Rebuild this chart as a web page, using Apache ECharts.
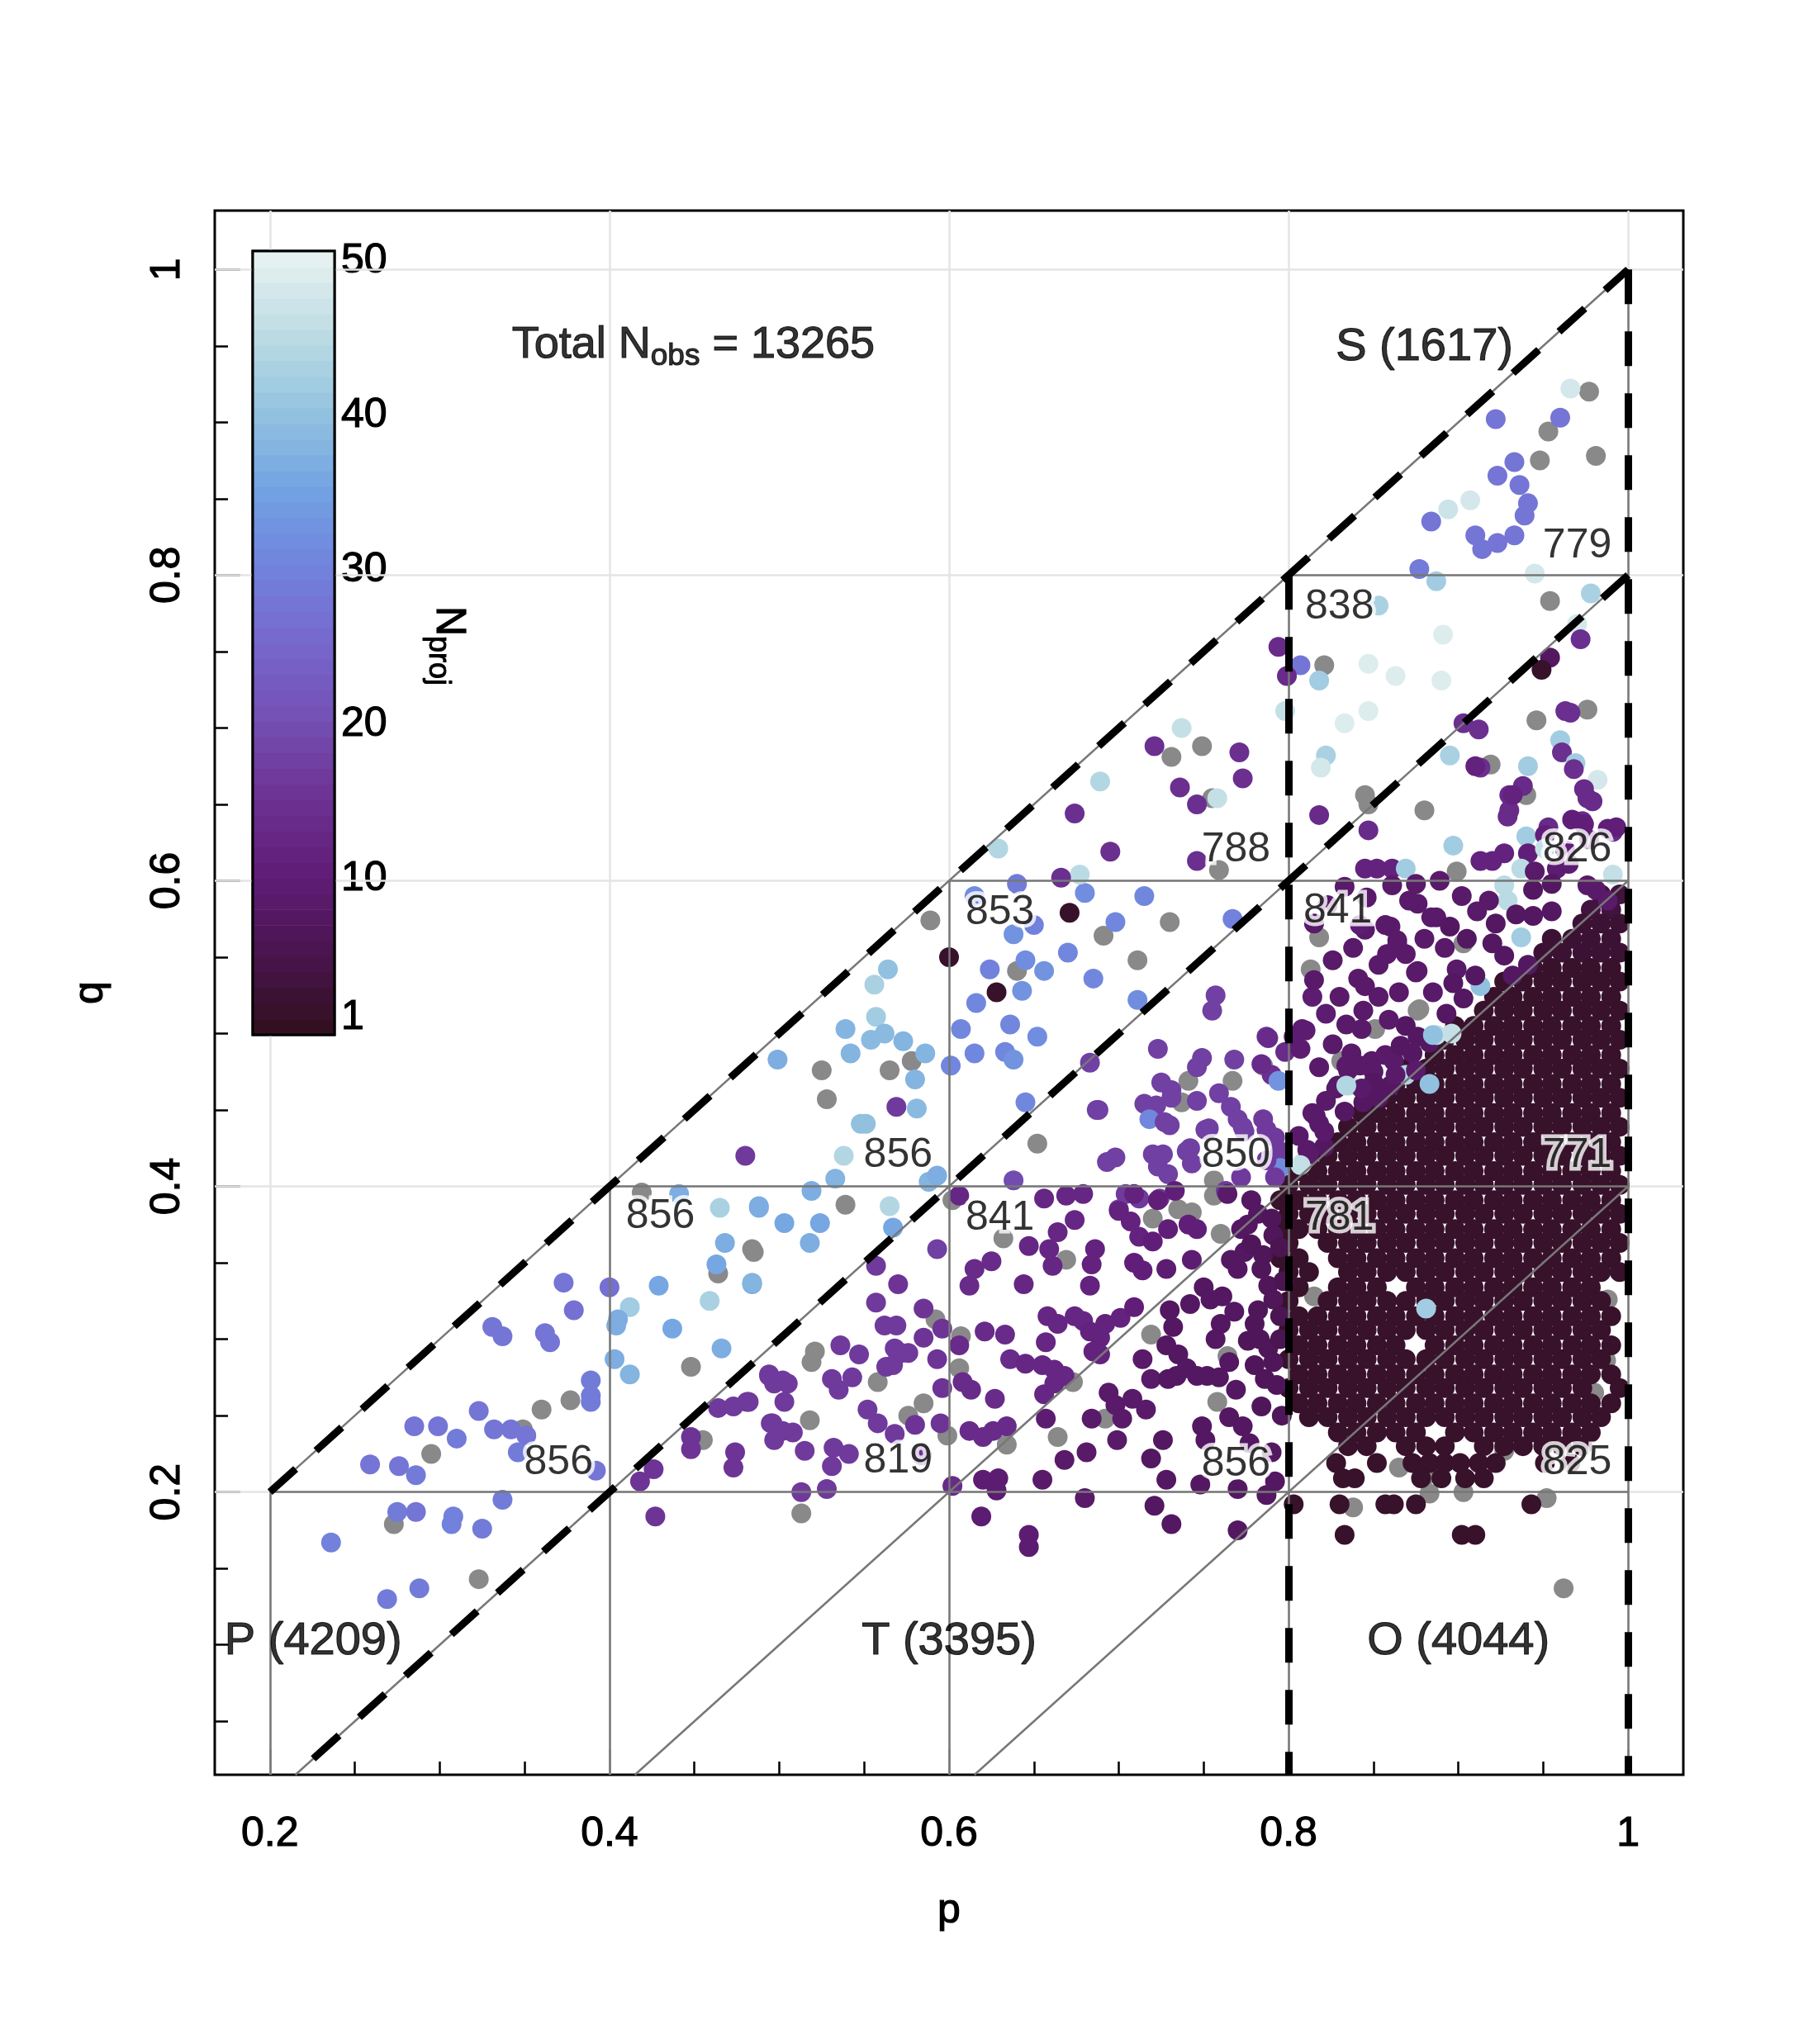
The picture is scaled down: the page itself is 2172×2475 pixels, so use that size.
<!DOCTYPE html>
<html>
<head>
<meta charset="utf-8">
<script src="https://cdn.jsdelivr.net/npm/echarts@6/dist/echarts.min.js"></script>
<style>
  html, body { margin: 0; padding: 0; background: #fff; }
  #chart { width: 2172px; height: 2475px; }
</style>
</head>
<body>
<div id="chart"></div>
<script>
// axis ranges (R style, 4% padding round the data)
var pRange = [0.1675, 1.0325];
var qRange = [0.015, 1.0385];
var majorTicks = [0.2, 0.4, 0.6, 0.8, 1];
var minorTicksP = [0.25, 0.3, 0.35, 0.45, 0.5, 0.55, 0.65, 0.7, 0.75, 0.85, 0.9, 0.95];
var minorTicksQ = [0.05, 0.1, 0.15, 0.25, 0.3, 0.35, 0.45, 0.5, 0.55, 0.65, 0.7, 0.75, 0.85, 0.9, 0.95];

// colour bar
var barRange = [-0.124, 50.64];
var barTicks = [1, 10, 20, 30, 40, 50];
var barLevels = [1, 2, 3, 4, 5, 6, 7, 8, 9, 10, 11, 12, 13, 14, 15, 16, 17, 18, 19, 20,
  21, 22, 23, 24, 25, 26, 27, 28, 29, 30, 31, 32, 33, 34, 35, 36, 37, 38, 39, 40,
  41, 42, 43, 44, 45, 46, 47, 48, 49, 50];
var palette = ['#331021', '#4a1550', '#601d77', '#6d3293', '#7450b4', '#7767cc',
  '#7183dd', '#72a2e2', '#93c2df', '#bcdce4', '#e5f1f0'];

// triangle cells
var cellRows = [0.2, 0.4, 0.6, 0.8];
var cellCols = [0.2, 0.4, 0.6, 0.8, 1];
var cellDiag = [0, 0.2, 0.4, 0.6];

// counts per cell [p, q, n]
var cellCounts = [
  [0.970, 0.819, '779'], [0.830, 0.779, '838'], [0.970, 0.620, '826'], [0.769, 0.620, '788'],
  [0.630, 0.579, '853'], [0.829, 0.580, '841'], [0.570, 0.420, '856'], [0.769, 0.420, '850'],
  [0.970, 0.420, '771'], [0.430, 0.380, '856'], [0.630, 0.379, '841'], [0.830, 0.379, '781'],
  [0.370, 0.219, '856'], [0.570, 0.220, '819'], [0.769, 0.218, '856'], [0.970, 0.219, '825']
];
var regionLabels = [
  [0.880, 0.949, 'S (1617)'], [0.2255, 0.102, 'P (4209)'],
  [0.600, 0.102, 'T (3395)'], [0.900, 0.102, 'O (4044)']
];
var totalLabel = [0.4494, 0.949, '13265'];

// points without N_proj (grey) [p, q]
var grayPts = [
  [0.419,0.396],[0.485,0.357],[0.464,0.343],[0.448,0.282],[0.377,0.260],[0.360,0.254],[0.349,0.241],
  [0.295,0.225],[0.273,0.179],[0.323,0.143],[0.455,0.234],
  [0.731,0.681],[0.749,0.688],[0.755,0.654],[0.759,0.607],[0.730,0.573],[0.589,0.574],[0.691,0.564],
  [0.711,0.548],[0.640,0.541],[0.578,0.482],[0.525,0.476],[0.565,0.476],[0.528,0.457],[0.741,0.469],
  [0.737,0.455],[0.767,0.469],[0.652,0.428],
  [0.539,0.388],[0.484,0.359],[0.602,0.391],[0.632,0.366],[0.669,0.352],[0.720,0.379],[0.735,0.385],
  [0.743,0.383],[0.756,0.394],[0.760,0.369],[0.592,0.313],[0.607,0.302],[0.719,0.303],[0.521,0.292],
  [0.519,0.285],[0.606,0.281],[0.558,0.272],[0.673,0.272],[0.585,0.258],[0.576,0.250],[0.518,0.247],
  [0.599,0.237],[0.634,0.231],[0.513,0.186],[0.664,0.236],[0.692,0.248],[0.758,0.259],[0.764,0.289],
  [0.977,0.920],[0.953,0.894],[0.981,0.878],[0.948,0.875],[0.954,0.783],[0.821,0.741],[0.919,0.676],
  [0.946,0.705],[0.976,0.712],[0.940,0.656],[0.845,0.656],[0.847,0.650],[0.880,0.646],
  [0.818,0.563],[0.813,0.542],[0.903,0.559],[0.877,0.516],[0.899,0.606],[0.851,0.503],[0.876,0.515],
  [0.831,0.482],[0.785,0.479],[0.756,0.404],
  [0.838,0.190],[0.883,0.199],[0.903,0.200],[0.952,0.196],[0.962,0.137],[0.865,0.216],[0.927,0.227],
  [0.988,0.326],[0.987,0.286],[0.980,0.265],[0.815,0.328],[0.880,0.210]
];

// coloured points [p, q, N_proj]
var colPts = [
  // P, lower left
  [0.373,0.337,28],[0.379,0.319,27],[0.331,0.308,28],[0.337,0.302,28],[0.362,0.304,28],[0.365,0.298,28],
  [0.389,0.273,29],[0.389,0.263,29],[0.389,0.259,29],[0.323,0.253,28],[0.285,0.243,28],[0.299,0.243,28],
  [0.310,0.235,29],[0.332,0.241,28],[0.342,0.241,28],[0.351,0.237,28],[0.346,0.226,29],[0.259,0.218,28],
  [0.276,0.217,28],[0.286,0.211,29],[0.392,0.214,28],[0.337,0.195,29],[0.275,0.187,29],[0.286,0.187,28],
  [0.308,0.184,30],[0.307,0.179,30],[0.325,0.176,29],[0.236,0.167,30],[0.269,0.130,29],[0.288,0.137,29],
  [0.400,0.334,27],
  // P band, middle
  [0.441,0.395,37],[0.465,0.386,43],[0.488,0.386,37],[0.468,0.363,37],[0.463,0.349,36],[0.429,0.335,36],
  [0.484,0.336,37],[0.459,0.325,43],[0.412,0.321,42],[0.405,0.313,37],[0.404,0.309,37],[0.437,0.307,36],
  [0.466,0.294,37],[0.403,0.287,37],[0.412,0.277,38],
  [0.488,0.387,37],[0.503,0.376,36],[0.519,0.397,37],[0.533,0.405,38],[0.524,0.376,36],[0.518,0.363,37],
  [0.565,0.387,44],[0.567,0.373,36],[0.484,0.337,38],[0.588,0.403,38],[0.593,0.407,37],
  [0.564,0.542,40],[0.556,0.532,43],[0.557,0.511,42],[0.539,0.503,38],[0.554,0.496,39],[0.562,0.500,39],
  [0.573,0.495,38],[0.542,0.487,38],[0.586,0.487,38],[0.580,0.470,38],[0.499,0.483,37],[0.581,0.451,39],
  [0.551,0.441,40],[0.548,0.441,40],[0.538,0.420,44],[0.569,0.452,17],
  // P band, upper
  [0.640,0.598,29],[0.680,0.592,32],[0.715,0.590,31],[0.615,0.590,32],[0.698,0.573,31],[0.767,0.575,30],
  [0.650,0.571,30],[0.638,0.565,33],[0.670,0.553,31],[0.645,0.548,32],[0.624,0.542,30],[0.656,0.541,33],
  [0.685,0.536,31],[0.643,0.528,33],[0.616,0.520,31],[0.711,0.522,32],[0.636,0.506,31],[0.607,0.503,31],
  [0.652,0.498,32],[0.615,0.487,31],[0.633,0.488,31],[0.638,0.483,33],[0.601,0.479,31],[0.645,0.455,31],
  [0.629,0.621,44],[0.689,0.665,44],[0.677,0.604,45],[0.737,0.700,46],[0.758,0.654,46],
  [0.671,0.579,2],[0.600,0.550,2],[0.628,0.527,2],
  [0.721,0.688,15],[0.771,0.684,15],[0.773,0.667,15],[0.736,0.661,15],[0.746,0.650,15],[0.674,0.644,15],
  [0.695,0.619,15],[0.746,0.613,15],[0.666,0.602,15],
  // T, left
  [0.480,0.420,17],[0.494,0.277,17],[0.497,0.271,17],[0.464,0.255,17],[0.473,0.256,17],[0.481,0.259,17],
  [0.495,0.245,17],[0.497,0.234,17],[0.448,0.236,16],[0.448,0.228,16],[0.474,0.226,16],[0.473,0.216,16],
  [0.426,0.215,16],[0.418,0.207,16],[0.427,0.184,16],
  // T, upper
  [0.757,0.525,18],[0.755,0.515,18],[0.723,0.490,18],[0.768,0.483,18],[0.749,0.484,18],[0.746,0.478,18],
  [0.683,0.481,18],[0.722,0.453,18],[0.687,0.450,18],[0.730,0.440,18],[0.753,0.438,18],[0.693,0.416,18],
  [0.726,0.421,18],[0.742,0.425,18],[0.774,0.436,18],
  [0.787,0.498,15],[0.798,0.488,14],[0.790,0.473,15],[0.794,0.469,33],[0.725,0.468,18],[0.731,0.463,18],
  [0.731,0.458,18],[0.715,0.454,18],[0.718,0.444,31],[0.746,0.456,18],[0.759,0.461,18],[0.766,0.452,18],
  [0.770,0.444,18],[0.773,0.439,18],[0.727,0.442,18],[0.751,0.437,18],[0.785,0.444,17],[0.787,0.437,17],
  [0.792,0.432,17],[0.795,0.423,17],[0.795,0.412,32],[0.808,0.415,46],[0.698,0.419,18],[0.688,0.450,18],
  [0.720,0.421,18],[0.723,0.413,18],[0.729,0.408,18],[0.740,0.423,18],[0.743,0.415,18],[0.772,0.406,17],
  [0.763,0.397,17],[0.787,0.417,17],[0.792,0.406,17],[0.704,0.395,17],[0.712,0.392,17],[0.724,0.392,17],
  [0.700,0.385,17],
  // T, middle
  [0.593,0.359,18],[0.606,0.394,13],[0.638,0.404,20],[0.647,0.361,13],[0.656,0.392,13],[0.669,0.394,13],
  [0.679,0.395,13],[0.674,0.378,13],[0.664,0.370,13],[0.659,0.359,13],[0.661,0.348,13],[0.686,0.359,12],
  [0.684,0.349,12],[0.683,0.335,12],[0.700,0.384,12],[0.707,0.377,12],[0.712,0.367,12],[0.720,0.364,11],
  [0.709,0.395,12],[0.723,0.391,11],[0.733,0.397,11],[0.729,0.372,11],[0.741,0.375,11],[0.746,0.372,11],
  [0.743,0.352,10],[0.709,0.350,11],[0.714,0.345,11],[0.728,0.346,10],[0.764,0.395,9],[0.778,0.391,8],
  [0.782,0.382,8],[0.772,0.372,8],[0.776,0.375,8],[0.790,0.379,7],[0.791,0.368,7],
  [0.615,0.346,14],[0.612,0.335,14],[0.625,0.351,14],[0.644,0.336,13],[0.557,0.348,17],[0.557,0.324,17],
  [0.570,0.336,16],[0.585,0.320,16],[0.562,0.309,17],[0.569,0.309,17],[0.596,0.307,16],[0.606,0.296,14],
  [0.585,0.301,16],[0.621,0.305,14],[0.633,0.303,14],[0.658,0.315,13],[0.664,0.310,13],[0.674,0.315,13],
  [0.679,0.312,13],[0.683,0.305,12],[0.689,0.301,12],[0.692,0.310,12],[0.701,0.314,12],[0.709,0.321,11],
  [0.657,0.298,13],[0.685,0.292,12],[0.689,0.290,12],[0.536,0.296,17],[0.547,0.290,17],[0.568,0.294,17],
  [0.572,0.291,17],[0.576,0.291,17],[0.563,0.282,17],[0.567,0.283,17],[0.593,0.287,16],[0.531,0.274,17],
  [0.535,0.267,17],[0.543,0.275,17],[0.494,0.276,17],[0.502,0.273,17],[0.505,0.271,17],[0.482,0.259,17],
  [0.503,0.259,17],[0.596,0.268,16],[0.608,0.272,14],[0.613,0.267,14],[0.636,0.287,14],[0.645,0.284,13],
  [0.655,0.283,13],[0.662,0.280,13],[0.668,0.276,13],[0.656,0.264,13],[0.662,0.271,13],[0.627,0.261,14],
  [0.552,0.254,17],[0.558,0.245,17],[0.580,0.244,16],[0.568,0.238,17],[0.595,0.245,16],[0.496,0.245,17],
  [0.502,0.240,17],[0.508,0.239,17],[0.515,0.227,17],[0.532,0.229,17],[0.541,0.225,17],[0.531,0.217,17],
  [0.584,0.224,16],[0.612,0.240,14],[0.620,0.236,14],[0.626,0.240,14],[0.634,0.243,14],[0.513,0.200,17],
  [0.528,0.202,17],[0.602,0.204,14],
  // T, right (darker)
  [0.657,0.248,10],[0.668,0.221,9],[0.681,0.226,9],[0.684,0.248,9],[0.694,0.265,9],[0.698,0.257,9],
  [0.702,0.248,9],[0.699,0.234,9],[0.708,0.261,9],[0.716,0.254,9],[0.714,0.287,9],[0.719,0.274,9],
  [0.729,0.274,8],[0.734,0.276,8],[0.728,0.296,8],[0.735,0.290,8],[0.740,0.281,8],[0.730,0.319,8],
  [0.732,0.308,8],[0.742,0.323,8],[0.750,0.334,8],[0.754,0.326,8],[0.761,0.328,8],[0.746,0.276,8],
  [0.752,0.276,8],[0.759,0.275,8],[0.765,0.285,8],[0.769,0.267,8],[0.765,0.249,8],[0.773,0.243,8],
  [0.776,0.299,7],[0.780,0.310,7],[0.782,0.319,7],[0.766,0.352,8],[0.770,0.346,8],[0.774,0.357,8],
  [0.784,0.346,7],[0.788,0.335,7],[0.791,0.326,7],[0.788,0.294,7],[0.791,0.285,7],[0.786,0.274,7],
  [0.726,0.234,8],[0.719,0.222,8],[0.728,0.208,8],[0.749,0.243,8],[0.751,0.234,8],[0.748,0.205,8],
  [0.721,0.191,8],[0.731,0.179,8],[0.770,0.175,8],[0.770,0.202,8],[0.787,0.198,8],[0.792,0.207,8],
  [0.680,0.196,9],[0.655,0.208,9],[0.620,0.208,10],[0.629,0.209,10],[0.628,0.201,10],[0.619,0.184,10],
  [0.647,0.172,10],[0.647,0.164,10],
  [0.778,0.362,7],[0.785,0.355,7],[0.795,0.360,6],[0.783,0.300,7],[0.795,0.300,6],[0.793,0.270,7],
  [0.780,0.283,7],[0.796,0.250,7],[0.784,0.256,7],[0.777,0.232,8],[0.790,0.226,8],[0.760,0.310,8],
  [0.768,0.318,8],[0.757,0.300,8],[0.795,0.315,6],[0.797,0.338,6],
  // S
  [0.966,0.922,48],[0.922,0.902,28],[0.960,0.903,28],[0.933,0.874,28],[0.923,0.865,28],[0.936,0.859,28],
  [0.907,0.849,48],[0.894,0.843,47],[0.941,0.847,28],[0.939,0.839,28],[0.884,0.835,28],[0.910,0.826,28],
  [0.914,0.817,28],[0.923,0.821,28],[0.933,0.826,28],[0.877,0.804,29],[0.887,0.796,42],[0.945,0.801,48],
  [0.978,0.788,43],[0.853,0.780,43],[0.970,0.768,48],[0.891,0.761,49],[0.972,0.758,15],[0.954,0.746,8],
  [0.949,0.738,2],[0.847,0.742,49],[0.863,0.734,49],[0.890,0.731,49],[0.847,0.711,49],[0.833,0.703,49],
  [0.807,0.741,28],[0.818,0.731,42],[0.794,0.753,14],[0.799,0.734,14],[0.798,0.711,46],[0.822,0.682,43],
  [0.819,0.674,48],[0.903,0.703,15],[0.912,0.699,15],[0.895,0.682,43],[0.913,0.674,15],[0.963,0.711,15],
  [0.966,0.710,15],[0.960,0.692,42],[0.961,0.684,15],[0.969,0.677,42],[0.968,0.673,15],[0.941,0.675,42],
  [0.982,0.666,48],[0.938,0.662,14],[0.930,0.656,14],[0.930,0.646,14],[0.929,0.642,14],[0.974,0.660,14],
  [0.976,0.654,14],[0.979,0.652,14],[0.973,0.639,14],[0.991,0.632,14],[0.818,0.643,14],[0.847,0.633,14],
  [0.953,0.635,14],[0.940,0.629,42],
  // O, top
  [0.910,0.675,12],[0.932,0.656,12],[0.988,0.634,11],[0.993,0.635,11],[0.967,0.640,11],[0.974,0.637,11],
  [0.977,0.627,11],[0.951,0.630,11],[0.941,0.618,11],[0.963,0.620,11],[0.951,0.621,46],[0.927,0.618,12],
  [0.920,0.613,12],[0.913,0.613,12],[0.897,0.623,42],[0.937,0.608,45],[0.845,0.608,12],[0.852,0.608,12],
  [0.861,0.608,12],[0.869,0.608,42],[0.958,0.608,10],[0.965,0.611,10],[0.976,0.597,9],[0.981,0.594,9],
  [0.988,0.587,9],[0.991,0.604,46],[0.927,0.597,45],[0.929,0.587,45],
  // O, above the blob
  [0.833,0.596,9],[0.876,0.585,9],[0.887,0.576,9],[0.845,0.568,9],[0.860,0.570,9],[0.864,0.558,9],
  [0.858,0.552,9],[0.841,0.536,9],[0.845,0.531,9],[0.876,0.541,9],[0.885,0.527,9],[0.865,0.527,9],
  [0.814,0.524,10],[0.822,0.513,10],[0.830,0.524,9],[0.853,0.524,9],[0.844,0.515,9],[0.834,0.506,9],
  [0.843,0.503,9],[0.869,0.505,8],[0.876,0.498,8],[0.883,0.494,8],[0.887,0.499,46],[0.837,0.487,9],
  [0.834,0.479,9],[0.842,0.479,9],[0.849,0.482,9],[0.857,0.486,9],[0.862,0.482,9],[0.850,0.475,9],
  [0.873,0.487,8],[0.836,0.466,46],[0.829,0.466,8],[0.850,0.468,8],[0.844,0.455,8],[0.860,0.466,8],
  [0.869,0.473,44],[0.816,0.446,9],[0.818,0.441,9],[0.806,0.433,9],[0.811,0.424,9],[0.821,0.426,8],
  [0.803,0.498,10],[0.808,0.503,10],
  [0.842,0.571,10],[0.857,0.571,9],[0.864,0.561,9],[0.871,0.587,9],[0.861,0.597,9],[0.884,0.576,9],
  [0.875,0.540,9],[0.892,0.556,9],[0.899,0.542,9],[0.911,0.580,9],[0.918,0.587,9],[0.944,0.594,8],
  [0.944,0.577,8],[0.955,0.580,8],[0.937,0.563,42],[0.913,0.531,40],[0.896,0.500,46],[0.885,0.499,40],
  [0.932,0.538,8],[0.941,0.545,8],[0.927,0.551,8],[0.920,0.559,8],[0.910,0.538,8],[0.810,0.502,10],
  [0.807,0.490,10],[0.835,0.476,9],[0.828,0.464,9],[0.843,0.464,9],[0.863,0.473,9],[0.875,0.476,9],
  [0.834,0.466,44],[0.883,0.467,40],[0.814,0.448,9],[0.821,0.436,9],[0.812,0.421,9],[0.807,0.414,46],
  [0.788,0.497,14],[0.784,0.480,14],
  [0.815,0.535,9],[0.826,0.548,9],[0.838,0.556,9],[0.853,0.545,9],[0.869,0.552,9],[0.880,0.562,9],
  [0.895,0.570,8],[0.905,0.562,8],[0.903,0.523,8],[0.893,0.513,8],[0.859,0.509,9],[0.826,0.493,9],
  [0.818,0.478,9],[0.822,0.456,9],[0.833,0.449,8],[0.853,0.458,8],[0.866,0.492,8],[0.897,0.533,8],
  [0.922,0.572,8],[0.934,0.578,8],[0.955,0.598,8],[0.945,0.606,9],[0.902,0.590,9],[0.889,0.600,9],
  [0.875,0.598,9],[0.823,0.584,9],[0.815,0.572,9],[0.846,0.589,9],
  // inside the blob
  [0.881,0.320,42]
];

// dense O cluster, read row by row: [q, N_proj, [p, ...]]
var darkRows = [
  [0.591, 4, [0.984, 0.995]],
  [0.581, 4, [0.978, 0.990]],
  [0.572, 3, [0.973, 0.984, 0.995]],
  [0.562, 3, [0.955, 0.967, 0.978, 0.990]],
  [0.553, 3, [0.950, 0.961, 0.973, 0.984, 0.995]],
  [0.543, 2, [0.944, 0.955, 0.967, 0.978, 0.990]],
  [0.534, 2, [0.927, 0.938, 0.950, 0.961, 0.973, 0.984, 0.995]],
  [0.524, 2, [0.921, 0.932, 0.944, 0.955, 0.967, 0.978, 0.990]],
  [0.515, 2, [0.915, 0.927, 0.938, 0.950, 0.961, 0.973, 0.984, 0.995]],
  [0.505, 2, [0.898, 0.909, 0.921, 0.932, 0.944, 0.955, 0.967, 0.978, 0.990]],
  [0.496, 2, [0.892, 0.904, 0.915, 0.927, 0.938, 0.950, 0.961, 0.973, 0.984, 0.995]],
  [0.486, 2, [0.886, 0.898, 0.909, 0.921, 0.932, 0.944, 0.955, 0.967, 0.978, 0.990]],
  [0.477, 2, [0.869, 0.881, 0.892, 0.904, 0.915, 0.927, 0.938, 0.950, 0.961, 0.973, 0.984, 0.995]],
  [0.467, 2, [0.863, 0.875, 0.886, 0.898, 0.909, 0.921, 0.932, 0.944, 0.955, 0.967, 0.978, 0.990]],
  [0.458, 2, [0.858, 0.869, 0.881, 0.892, 0.904, 0.915, 0.927, 0.938, 0.950, 0.961, 0.973, 0.984, 0.995]],
  [0.448, 2, [0.843, 0.852, 0.863, 0.875, 0.886, 0.898, 0.909, 0.921, 0.932, 0.944, 0.955, 0.967, 0.978, 0.990]],
  [0.439, 2, [0.835, 0.846, 0.858, 0.869, 0.881, 0.892, 0.904, 0.915, 0.927, 0.938, 0.950, 0.961, 0.973, 0.984, 0.995]],
  [0.429, 2, [0.829, 0.840, 0.852, 0.863, 0.875, 0.886, 0.898, 0.909, 0.921, 0.932, 0.944, 0.955, 0.967, 0.978, 0.990]],
  [0.420, 2, [0.812, 0.823, 0.835, 0.846, 0.858, 0.869, 0.881, 0.892, 0.904, 0.915, 0.927, 0.938, 0.950, 0.961, 0.973, 0.984, 0.995]],
  [0.410, 2, [0.806, 0.817, 0.829, 0.840, 0.852, 0.863, 0.875, 0.886, 0.898, 0.909, 0.921, 0.932, 0.944, 0.955, 0.967, 0.978, 0.990]],
  [0.401, 2, [0.800, 0.812, 0.823, 0.835, 0.846, 0.858, 0.869, 0.881, 0.892, 0.904, 0.915, 0.927, 0.938, 0.950, 0.961, 0.973, 0.984, 0.995]],
  [0.391, 2, [0.795, 0.806, 0.817, 0.829, 0.840, 0.852, 0.863, 0.875, 0.886, 0.898, 0.909, 0.921, 0.932, 0.944, 0.955, 0.967, 0.978, 0.990]],
  [0.382, 2, [0.800, 0.812, 0.823, 0.835, 0.846, 0.858, 0.869, 0.881, 0.892, 0.904, 0.915, 0.927, 0.938, 0.950, 0.961, 0.973, 0.984, 0.995]],
  [0.372, 2, [0.795, 0.806, 0.817, 0.829, 0.840, 0.852, 0.863, 0.875, 0.886, 0.898, 0.909, 0.921, 0.932, 0.944, 0.955, 0.967, 0.978, 0.990]],
  [0.363, 2, [0.800, 0.823, 0.835, 0.846, 0.858, 0.869, 0.881, 0.892, 0.904, 0.915, 0.927, 0.938, 0.950, 0.961, 0.973, 0.984, 0.995]],
  [0.353, 2, [0.795, 0.806, 0.829, 0.840, 0.852, 0.863, 0.875, 0.886, 0.898, 0.909, 0.921, 0.932, 0.944, 0.955, 0.967, 0.978, 0.990]],
  [0.344, 2, [0.800, 0.812, 0.835, 0.846, 0.858, 0.869, 0.881, 0.892, 0.904, 0.915, 0.927, 0.938, 0.950, 0.961, 0.973, 0.984, 0.995]],
  [0.334, 2, [0.806, 0.829, 0.840, 0.852, 0.875, 0.886, 0.898, 0.909, 0.921, 0.932, 0.944, 0.955, 0.967, 0.978]],
  [0.325, 2, [0.800, 0.823, 0.835, 0.846, 0.858, 0.869, 0.881, 0.892, 0.904, 0.915, 0.927, 0.938, 0.950, 0.961, 0.973, 0.984]],
  [0.315, 2, [0.806, 0.817, 0.829, 0.840, 0.852, 0.863, 0.875, 0.886, 0.898, 0.909, 0.921, 0.932, 0.944, 0.955, 0.967, 0.978, 0.990]],
  [0.306, 2, [0.800, 0.812, 0.823, 0.835, 0.846, 0.858, 0.869, 0.881, 0.892, 0.904, 0.915, 0.927, 0.938, 0.950, 0.961, 0.973, 0.984]],
  [0.296, 2, [0.806, 0.817, 0.829, 0.840, 0.852, 0.863, 0.886, 0.898, 0.909, 0.921, 0.932, 0.944, 0.955, 0.967, 0.978, 0.990]],
  [0.287, 2, [0.800, 0.812, 0.823, 0.835, 0.846, 0.858, 0.869, 0.881, 0.892, 0.904, 0.915, 0.927, 0.938, 0.950, 0.961, 0.973, 0.984]],
  [0.277, 2, [0.806, 0.817, 0.829, 0.840, 0.852, 0.863, 0.875, 0.886, 0.898, 0.909, 0.921, 0.932, 0.944, 0.955, 0.967, 0.978, 0.990]],
  [0.268, 2, [0.800, 0.812, 0.823, 0.835, 0.846, 0.858, 0.869, 0.881, 0.892, 0.904, 0.915, 0.927, 0.938, 0.950, 0.961, 0.973, 0.995]],
  [0.258, 2, [0.806, 0.817, 0.829, 0.840, 0.852, 0.863, 0.875, 0.886, 0.898, 0.909, 0.921, 0.932, 0.944, 0.955, 0.967, 0.978, 0.990]],
  [0.249, 2, [0.812, 0.823, 0.835, 0.846, 0.858, 0.869, 0.881, 0.892, 0.904, 0.915, 0.927, 0.938, 0.950, 0.961, 0.973, 0.984]],
  [0.239, 2, [0.829, 0.840, 0.852, 0.863, 0.875, 0.898, 0.909, 0.921, 0.932, 0.944, 0.955, 0.967, 0.978]],
  [0.230, 2, [0.835, 0.846, 0.869, 0.881, 0.892, 0.915, 0.927, 0.938, 0.950, 0.961, 0.973]],
  [0.219, 2, [0.828, 0.852, 0.873, 0.883, 0.892, 0.901, 0.912, 0.922, 0.951, 0.966]],
  [0.209, 2, [0.832, 0.839, 0.878, 0.890, 0.904, 0.915]],
  [0.192, 2, [0.803, 0.830, 0.857, 0.862, 0.875, 0.943]],
  [0.172, 2, [0.833, 0.902, 0.910]]
];

var darkPts = [];
darkRows.forEach(function (row) {
  row[2].forEach(function (p) { darkPts.push([p, row[0], row[1]]); });
});

var qMin = qRange[0];
var gridLines = [];
majorTicks.forEach(function (v) {
  gridLines.push({ coords: [[v, qRange[0]], [v, qRange[1]]] });
  gridLines.push({ coords: [[pRange[0], v], [pRange[1], v]] });
});
var cellLines = [];
cellRows.forEach(function (q) { cellLines.push({ coords: [[q, q], [1, q]] }); });
cellCols.forEach(function (p) { cellLines.push({ coords: [[p, qMin], [p, p]] }); });
cellDiag.forEach(function (d) {
  var start = d === 0 ? [0.2, 0.2] : [qMin + d, qMin];
  cellLines.push({ coords: [start, [1, 1 - d]] });
});
var dashLines = [
  { coords: [[0.2, 0.2], [1, 1]] },
  { coords: [[1, 0.8], [qMin + 0.2, qMin]] },
  { coords: [[0.8, 0.8], [0.8, qMin]] },
  { coords: [[1, 1], [1, qMin]] }
];

var font = 'Liberation Sans, Arial, Helvetica, sans-serif';
var tickStyle = { color: '#000', width: 2.5 };
var dotSize = 24;
// slightly heavier black text, like the original device font
var ink = { color: '#000', textBorderColor: '#000', textBorderWidth: 1.2 };

function labelPts(list) {
  return list.map(function (d) { return { value: [d[0], d[1]], name: d[2] }; });
}

var chart = echarts.init(document.getElementById('chart'));
var option = {
  animation: false,
  backgroundColor: '#fff',
  textStyle: { fontFamily: font },
  grid: [
    { left: 260, top: 255, right: 134, bottom: 326, show: true, borderColor: '#000', borderWidth: 3,
      outerBoundsMode: 'none' },
    { left: 306, top: 304, width: 99, height: 949, show: true, borderColor: '#000', borderWidth: 3,
      outerBoundsMode: 'none' }
  ],
  xAxis: [
    {
      type: 'value', gridIndex: 0, min: pRange[0], max: pRange[1], position: 'bottom',
      axisLine: { show: false }, splitLine: { show: false },
      axisTick: { show: true, inside: true, length: 31, customValues: majorTicks, lineStyle: tickStyle },
      axisLabel: Object.assign({ customValues: majorTicks, fontSize: 50, margin: 47 }, ink),
      name: 'p', nameLocation: 'middle', nameGap: 140,
      nameTextStyle: Object.assign({ fontSize: 50 }, ink)
    },
    { type: 'value', gridIndex: 1, min: 0, max: 1, show: false },
    {
      type: 'value', gridIndex: 0, min: pRange[0], max: pRange[1], position: 'bottom',
      axisLine: { show: false }, splitLine: { show: false }, axisLabel: { show: false },
      axisTick: { show: true, inside: true, length: 16, customValues: minorTicksP, lineStyle: tickStyle }
    }
  ],
  yAxis: [
    {
      type: 'value', gridIndex: 0, min: qRange[0], max: qRange[1], position: 'left',
      axisLine: { show: false }, splitLine: { show: false },
      axisTick: { show: true, inside: true, length: 31, customValues: majorTicks, lineStyle: tickStyle },
      axisLabel: Object.assign({ customValues: majorTicks, fontSize: 50, rotate: 90, margin: 32 }, ink),
      name: 'q', nameLocation: 'middle', nameGap: 125,
      nameTextStyle: Object.assign({ fontSize: 50 }, ink)
    },
    {
      type: 'value', gridIndex: 1, min: barRange[0], max: barRange[1], position: 'right',
      axisLine: { show: false }, splitLine: { show: false }, axisTick: { show: false },
      axisLabel: Object.assign({ customValues: barTicks, fontSize: 50, margin: 8 }, ink)
    },
    {
      type: 'value', gridIndex: 0, min: qRange[0], max: qRange[1], position: 'left',
      axisLine: { show: false }, splitLine: { show: false }, axisLabel: { show: false },
      axisTick: { show: true, inside: true, length: 16, customValues: minorTicksQ, lineStyle: tickStyle }
    }
  ],
  visualMap: {
    type: 'continuous', show: false, min: 1, max: 50, dimension: 2,
    seriesIndex: [2, 3, 9], inRange: { color: palette }
  },
  graphic: [{
    type: 'text', x: 540, y: 782, rotation: -Math.PI / 2, silent: true,
    style: {
      text: '{a|N}{b|proj}', align: 'center', verticalAlign: 'middle',
      rich: {
        a: { fontSize: 50, lineHeight: 56, verticalAlign: 'top', fill: '#000', stroke: '#000', lineWidth: 1.2, fontFamily: font },
        b: { fontSize: 36, lineHeight: 56, verticalAlign: 'bottom', fill: '#000', stroke: '#000', lineWidth: 1, fontFamily: font }
      }
    }
  }],
  series: [
    { // 0 light grid
      type: 'lines', coordinateSystem: 'cartesian2d', data: gridLines, silent: true, z: 1,
      lineStyle: { color: '#e4e4e4', width: 2.5, opacity: 1 }
    },
    { // 1 grey points
      type: 'scatter', data: grayPts, symbolSize: dotSize, silent: true, z: 2,
      itemStyle: { color: '#898989', opacity: 1 }
    },
    { // 2 dense cluster
      type: 'scatter', data: darkPts, symbolSize: dotSize, silent: true, z: 2,
      itemStyle: { opacity: 1 }
    },
    { // 3 coloured points
      type: 'scatter', data: colPts, symbolSize: dotSize, silent: true, z: 2,
      itemStyle: { opacity: 1 }
    },
    { // 4 cell lines
      type: 'lines', coordinateSystem: 'cartesian2d', data: cellLines, silent: true, z: 3,
      lineStyle: { color: '#777', width: 2.5, opacity: 1 }
    },
    { // 5 region boundaries
      type: 'lines', coordinateSystem: 'cartesian2d', data: dashLines, silent: true, z: 4,
      lineStyle: { color: '#000', width: 9, opacity: 1, type: [42, 33], cap: 'butt' }
    },
    { // 6 cell counts
      type: 'scatter', data: labelPts(cellCounts), symbolSize: 1, silent: true, z: 5,
      itemStyle: { color: 'rgba(0,0,0,0)' },
      label: {
        show: true, position: 'inside', formatter: '{b}', fontSize: 50, color: '#000',
        textBorderColor: '#fff', textBorderWidth: 9, fontFamily: font
      }
    },
    { // 7 region names
      type: 'scatter', data: labelPts(regionLabels), symbolSize: 1, silent: true, z: 5,
      itemStyle: { color: 'rgba(0,0,0,0)' },
      label: Object.assign({ show: true, position: 'inside', formatter: '{b}', fontSize: 56, fontFamily: font }, ink)
    },
    { // 8 total
      type: 'scatter', data: labelPts([totalLabel]), symbolSize: 1, silent: true, z: 5,
      itemStyle: { color: 'rgba(0,0,0,0)' },
      label: {
        show: true, position: 'inside',
        formatter: function (p) { return '{a|Total N}{b|obs}{a| = ' + p.name + '}'; },
        rich: {
          a: Object.assign({ fontSize: 54, lineHeight: 60, verticalAlign: 'top', fontFamily: font }, ink),
          b: Object.assign({ fontSize: 37, lineHeight: 60, verticalAlign: 'bottom', fontFamily: font }, ink)
        }
      }
    },
    { // 9 colour bar
      type: 'custom', xAxisIndex: 1, yAxisIndex: 1, silent: true, z: 6,
      data: barLevels.map(function (n) { return [0, n, n]; }),
      renderItem: function (params, api) {
        var n = api.value(1);
        var k = barLevels.length;
        var v0 = barRange[0] + (n - 1) / k * (barRange[1] - barRange[0]);
        var v1 = barRange[0] + n / k * (barRange[1] - barRange[0]);
        var top = api.coord([0, v1]);
        var bot = api.coord([0, v0]);
        return {
          type: 'rect',
          shape: { x: params.coordSys.x, y: top[1], width: params.coordSys.width, height: bot[1] - top[1] + 0.7 },
          style: { fill: api.visual('color') }
        };
      }
    },
    { // 10 colour bar frame
      type: 'custom', xAxisIndex: 1, yAxisIndex: 1, silent: true, z: 7,
      data: [[0, 1]],
      renderItem: function (params) {
        var cs = params.coordSys;
        return {
          type: 'rect', shape: { x: cs.x, y: cs.y, width: cs.width, height: cs.height },
          style: { fill: 'none', stroke: '#000', lineWidth: 3 }
        };
      }
    }
  ]
};
chart.setOption(option);
</script>
</body>
</html>
